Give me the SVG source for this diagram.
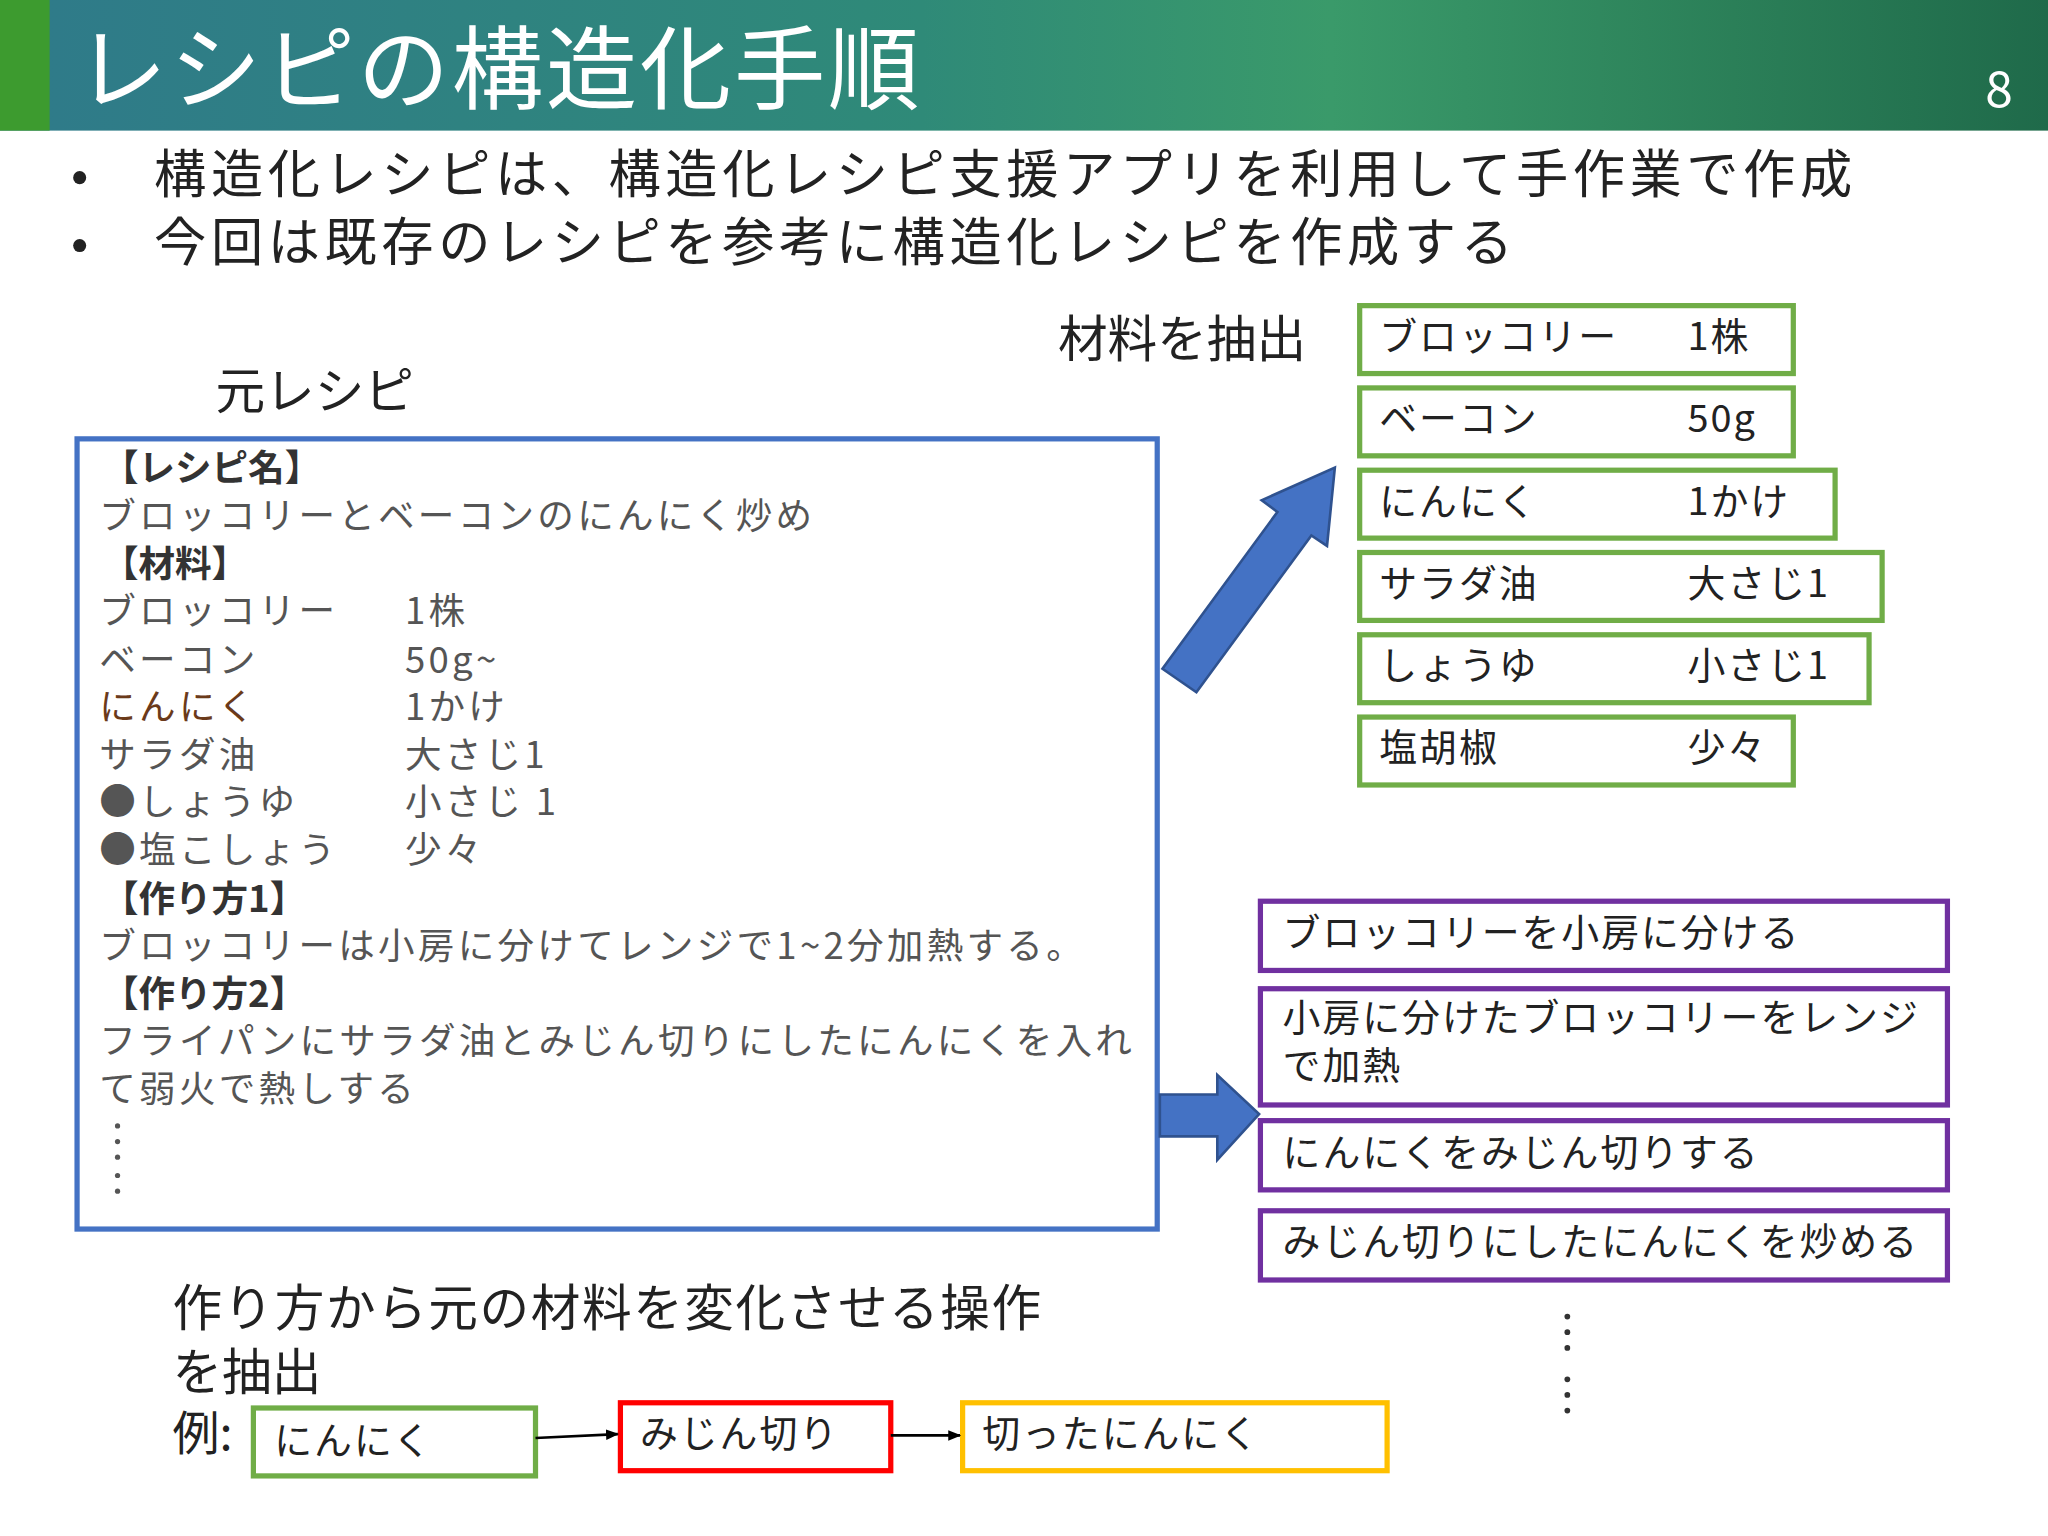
<svg xmlns="http://www.w3.org/2000/svg" width="2048" height="1536" viewBox="0 0 2048 1536">
<defs>
<linearGradient id="hdr" x1="0" y1="0" x2="1" y2="0">
<stop offset="0" stop-color="#2f7a8a"/><stop offset="0.45" stop-color="#2f8a78"/><stop offset="0.65" stop-color="#3a9a6a"/><stop offset="1" stop-color="#1f6a4a"/>
</linearGradient>
<marker id="ah" markerWidth="10" markerHeight="8" refX="9" refY="4" orient="auto" markerUnits="userSpaceOnUse"><path d="M0,0 L10,4 L0,8 z" fill="#000"/></marker>
<style>
text{font-family:"Noto Sans CJK JP","Noto Sans",sans-serif;fill:#333}
.b{font-size:30px;fill:#222}
.r{font-size:28px;fill:#555;letter-spacing:2.5px}
.h{font-size:28px;font-weight:bold;fill:#333}
.g{fill:#fff;stroke:#70ad47;stroke-width:4}
.p{fill:#fff;stroke:#7030a0;stroke-width:4}
.t{font-size:29px;fill:#222;letter-spacing:1.5px}
.d{fill:#555}
</style>
</defs>
<g transform="scale(1.30612)">
<rect width="1568" height="100" fill="url(#hdr)"/>
<rect width="38" height="100" fill="#3d9b2f"/>
<text x="58" y="78" style="font-size:70px;fill:#fff;letter-spacing:2px">レシピの構造化手順</text>
<text x="1520" y="82" style="font-size:38px;fill:#fff">8</text>
<circle cx="61" cy="136" r="5" fill="#222"/><text x="118" y="148" style="font-size:40px;fill:#222;letter-spacing:3.5px">構造化レシピは、構造化レシピ支援アプリを利用して手作業で作成</text>
<circle cx="61" cy="188" r="5" fill="#222"/><text x="118" y="200" style="font-size:40px;fill:#222;letter-spacing:3.5px">今回は既存のレシピを参考に構造化レシピを作成する</text>
<text x="165" y="313" style="font-size:38px;fill:#222">元レシピ</text>
<text x="810" y="273" style="font-size:38px;fill:#222">材料を抽出</text>
<g id="recipe">
<rect x="59" y="336" width="827" height="605" fill="#fff" stroke="#4472c4" stroke-width="4"/>
<text x="78" y="368" class="h">【レシピ名】</text>
<text x="76" y="405" class="r">ブロッコリーとベーコンのにんにく炒め</text>
<text x="78" y="442" class="h">【材料】</text>
<text x="76" y="478" class="r">ブロッコリー</text><text x="310" y="478" class="r">1株</text>
<text x="76" y="515" class="r">ベーコン</text><text x="310" y="515" class="r">50g~</text>
<text x="76" y="551" class="r" style="fill:#6b3a1a">にんにく</text><text x="310" y="551" class="r">1かけ</text>
<text x="76" y="588" class="r">サラダ油</text><text x="310" y="588" class="r">大さじ1</text>
<text x="76" y="624" class="r">●しょうゆ</text><text x="310" y="624" class="r">小さじ 1</text>
<text x="76" y="661" class="r">●塩こしょう</text><text x="310" y="661" class="r">少々</text>
<text x="78" y="698" class="h">【作り方1】</text>
<text x="76" y="734" class="r">ブロッコリーは小房に分けてレンジで1~2分加熱する。</text>
<text x="78" y="771" class="h">【作り方2】</text>
<text x="76" y="807" class="r">フライパンにサラダ油とみじん切りにしたにんにくを入れ</text>
<text x="76" y="844" class="r">て弱火で熱しする</text>
<circle cx="90" cy="862" r="2" class="d"/><circle cx="90" cy="874" r="2" class="d"/><circle cx="90" cy="886" r="2" class="d"/>
<circle cx="90" cy="900" r="2" class="d"/><circle cx="90" cy="912" r="2" class="d"/>
</g>
<g id="ingredients">
<rect x="1041" y="234" width="332" height="52" class="g"/><text x="1056" y="268" class="t">ブロッコリー</text><text x="1292" y="268" class="t">1株</text>
<rect x="1041" y="297" width="332" height="52" class="g"/><text x="1056" y="331" class="t">ベーコン</text><text x="1292" y="331" class="t">50g</text>
<rect x="1041" y="360" width="364" height="52" class="g"/><text x="1056" y="394" class="t">にんにく</text><text x="1292" y="394" class="t">1かけ</text>
<rect x="1041" y="423" width="400" height="52" class="g"/><text x="1056" y="457" class="t">サラダ油</text><text x="1292" y="457" class="t">大さじ1</text>
<rect x="1041" y="486" width="390" height="52" class="g"/><text x="1056" y="520" class="t">しょうゆ</text><text x="1292" y="520" class="t">小さじ1</text>
<rect x="1041" y="549" width="332" height="52" class="g"/><text x="1056" y="583" class="t">塩胡椒</text><text x="1292" y="583" class="t">少々</text>
</g>
<g id="steps">
<rect x="965" y="690" width="526" height="53" class="p"/><text x="982" y="724" class="t">ブロッコリーを小房に分ける</text>
<rect x="965" y="757" width="526" height="89" class="p"/><text x="982" y="789" class="t">小房に分けたブロッコリーをレンジ</text><text x="982" y="826" class="t">で加熱</text>
<rect x="965" y="858" width="526" height="53" class="p"/><text x="982" y="893" class="t">にんにくをみじん切りする</text>
<rect x="965" y="927" width="526" height="53" class="p"/><text x="982" y="961" class="t">みじん切りにしたにんにくを炒める</text>
<circle cx="1200" cy="1008" r="2.2" fill="#333"/><circle cx="1200" cy="1020" r="2.2" fill="#333"/><circle cx="1200" cy="1032" r="2.2" fill="#333"/>
<circle cx="1200" cy="1056" r="2.2" fill="#333"/><circle cx="1200" cy="1068" r="2.2" fill="#333"/><circle cx="1200" cy="1080" r="2.2" fill="#333"/>
</g>
<text x="132" y="1015" style="font-size:38px;fill:#222;letter-spacing:1.2px">作り方から元の材料を変化させる操作</text>
<text x="132" y="1064" style="font-size:38px;fill:#222">を抽出</text>
<text x="132" y="1110" style="font-size:36px;fill:#222">例:</text>
<g id="ex1"><rect x="194" y="1078" width="216" height="52" class="g"/><text x="210" y="1113" class="t">にんにく</text></g>
<g id="ex2"><rect x="475" y="1074" width="207" height="52" fill="#fff" stroke="#ff0000" stroke-width="4"/><text x="490" y="1108" class="t">みじん切り</text></g>
<g id="ex3"><rect x="737" y="1074" width="325" height="52" fill="#fff" stroke="#ffc000" stroke-width="4"/><text x="752" y="1108" class="t">切ったにんにく</text></g>
<g id="connectors">
<path d="M890,512 L978,392 L966,383 L1022,358 L1016,418 L1004,410 L916,530 Z" fill="#4472c4" stroke="#2f528f" stroke-width="2"/>
<path d="M888,838 L932,838 L932,823 L964,853 L932,888 L932,870 L888,870 Z" fill="#4472c4" stroke="#2f528f" stroke-width="2"/>
<line x1="410" y1="1101" x2="473" y2="1098" stroke="#000" stroke-width="2" marker-end="url(#ah)"/>
<line x1="682" y1="1099" x2="735" y2="1099" stroke="#000" stroke-width="2" marker-end="url(#ah)"/>
</g>
</g>
</svg>
